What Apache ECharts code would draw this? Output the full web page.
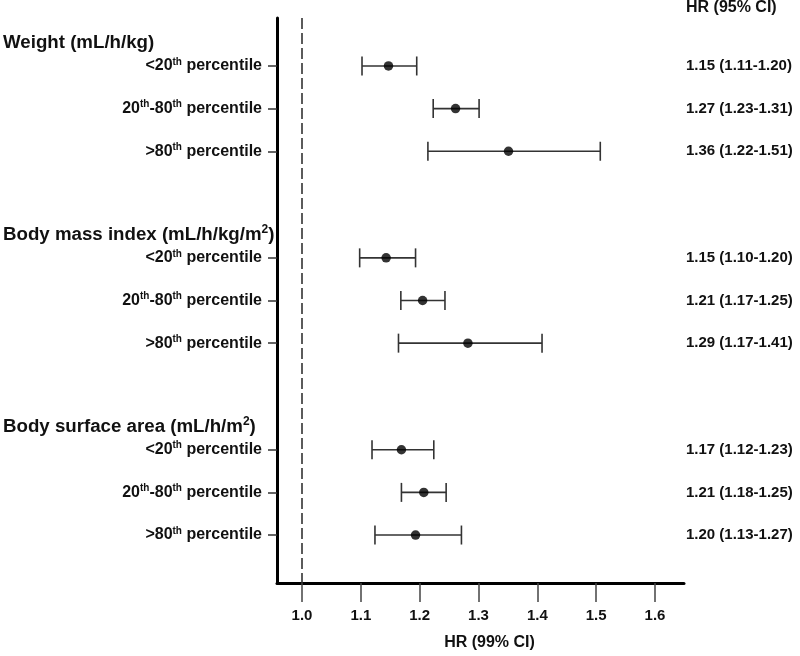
<!DOCTYPE html>
<html>
<head>
<meta charset="utf-8">
<script src="https://cdn.jsdelivr.net/npm/echarts@6/dist/echarts.min.js"></script>
<style>html,body{margin:0;padding:0;background:#fff}#chart{width:800px;height:656px}</style>
</head>
<body>
<div id="chart"></div>
<script>
// ---- data ----
const groupNames = ['Weight (mL/h/kg)', 'Body mass index (mL/h/kg/m²)', 'Body surface area (mL/h/m²)'];
const subgroupNames = ['<20th percentile', '20th-80th percentile', '>80th percentile'];
// plotted HR and 99% CI, order: weight, BMI, BSA x (<20, 20-80, >80)
const hrValues = [1.147, 1.261, 1.351, 1.143, 1.205, 1.282, 1.169, 1.207, 1.193];
const ciLow    = [1.102, 1.223, 1.214, 1.098, 1.168, 1.164, 1.119, 1.169, 1.124];
const ciHigh   = [1.195, 1.301, 1.507, 1.193, 1.243, 1.408, 1.224, 1.245, 1.271];
const hrText = ['1.15 (1.11-1.20)', '1.27 (1.23-1.31)', '1.36 (1.22-1.51)',
                '1.15 (1.10-1.20)', '1.21 (1.17-1.25)', '1.29 (1.17-1.41)',
                '1.17 (1.12-1.23)', '1.21 (1.18-1.25)', '1.20 (1.13-1.27)'];
const xTicks = [1.0, 1.1, 1.2, 1.3, 1.4, 1.5, 1.6];
const refValue = 1.0;
const xTitle = 'HR (99% CI)';
const rightTitle = 'HR (95% CI)';

// ---- layout of category slots ----
const SLOTS = 53;
const cats = Array.from({length: SLOTS}, (_, i) => 'slot' + i);
const headerLabel = {}, rowLabel = {}, valueLabel = {};
const rowIndex = [];
groupNames.forEach((g, gi) => {
  const base = 2 + gi * 18;
  headerLabel[cats[base]] = g;
  subgroupNames.forEach((s, si) => {
    const idx = base + 2 + si * 4;
    const k = gi * 3 + si;
    rowLabel[cats[idx]] = s;
    valueLabel[cats[idx]] = hrText[k];
    rowIndex[k] = idx;
  });
});

const FONT = "'Liberation Sans', Arial, Helvetica, sans-serif";
const chart = echarts.init(document.getElementById('chart'), null, {renderer: 'canvas'});

const baseY = {
  type: 'category', data: cats, inverse: true, boundaryGap: true,
  splitLine: {show: false}
};

const option = {
  animation: false,
  backgroundColor: '#fff',
  title: {
    text: rightTitle, left: 686, top: 0, padding: 0,
    textStyle: {fontFamily: FONT, fontSize: 16, fontWeight: 'bold', color: '#111'}
  },
  grid: {left: 277, right: 116, top: 18, bottom: 70, containLabel: false},
  xAxis: {
    type: 'value', min: 0.9575, max: 1.6493,
    splitLine: {show: false},
    axisLine: {show: true, onZero: false, lineStyle: {color: '#000', width: 3}},
    axisTick: {show: true, customValues: xTicks, length: 19, lineStyle: {color: '#444', width: 1.5}},
    axisLabel: {
      customValues: xTicks, margin: 25,
      formatter: v => Number(v).toFixed(1),
      fontFamily: FONT, fontSize: 15, fontWeight: 'bold', color: '#111'
    },
    name: xTitle, nameLocation: 'middle', nameGap: 52,
    nameTextStyle: {fontFamily: FONT, fontSize: 16, fontWeight: 'bold', color: '#111', padding: [0, 0, 0, 18]}
  },
  yAxis: [
    Object.assign({}, baseY, {
      position: 'left',
      axisLine: {show: true, lineStyle: {color: '#000', width: 3}},
      axisTick: {show: true, alignWithLabel: true, length: 9,
        interval: (i, v) => rowLabel[v] !== undefined,
        lineStyle: {color: '#333', width: 1.5}},
      axisLabel: {
        interval: (i, v) => rowLabel[v] !== undefined,
        margin: 15,
        formatter: v => (rowLabel[v] || '').replace(/(\d)th/g, '$1{sup|th}'),
        fontFamily: FONT, fontSize: 16, fontWeight: 'bold', color: '#111',
        rich: {sup: {fontFamily: FONT, fontSize: 10, fontWeight: 'bold', color: '#111', padding: [0, 0, 8, 0]}}
      }
    }),
    Object.assign({}, baseY, {
      position: 'left',
      axisLine: {show: false}, axisTick: {show: false},
      axisLabel: {
        interval: (i, v) => headerLabel[v] !== undefined,
        margin: 274, align: 'left',
        formatter: v => (headerLabel[v] || '').replace('²', '{hs|2}'),
        fontFamily: FONT, fontSize: 18.7, fontWeight: 'bold', color: '#111',
        padding: [0, 0, 4, 0],
        rich: {hs: {fontFamily: FONT, fontSize: 12, fontWeight: 'bold', color: '#111', padding: [0, 0, 9, 0]}}
      }
    }),
    Object.assign({}, baseY, {
      position: 'right',
      axisLine: {show: false}, axisTick: {show: false},
      axisLabel: {
        interval: (i, v) => valueLabel[v] !== undefined,
        margin: 2, align: 'left',
        formatter: v => valueLabel[v] || '',
        fontFamily: FONT, fontSize: 15, fontWeight: 'bold', color: '#111'
      }
    })
  ],
  series: [
    {
      type: 'custom',
      yAxisIndex: 0,
      data: ciLow.map((lo, k) => [lo, ciHigh[k], rowIndex[k]]),
      encode: {x: [0, 1], y: 2},
      renderItem: (params, api) => {
        const y = api.value(2);
        const a = api.coord([api.value(0), y]);
        const b = api.coord([api.value(1), y]);
        const cap = 9.5;
        const st = {stroke: '#333', lineWidth: 1.6};
        return {type: 'group', children: [
          {type: 'line', shape: {x1: a[0], y1: a[1], x2: b[0], y2: b[1]}, style: st},
          {type: 'line', shape: {x1: a[0], y1: a[1] - cap, x2: a[0], y2: a[1] + cap}, style: st},
          {type: 'line', shape: {x1: b[0], y1: b[1] - cap, x2: b[0], y2: b[1] + cap}, style: st}
        ]};
      },
      z: 2
    },
    {
      type: 'scatter',
      yAxisIndex: 0,
      data: hrValues.map((v, k) => [v, rowIndex[k]]),
      symbol: 'circle', symbolSize: 9.5,
      itemStyle: {color: '#000'},
      z: 3,
      markLine: {
        silent: true, symbol: 'none',
        label: {show: false},
        lineStyle: {color: '#333', width: 1.6, type: [11, 4]},
        data: [{xAxis: refValue}]
      }
    }
  ]
};
chart.setOption(option);
</script>
</body>
</html>
